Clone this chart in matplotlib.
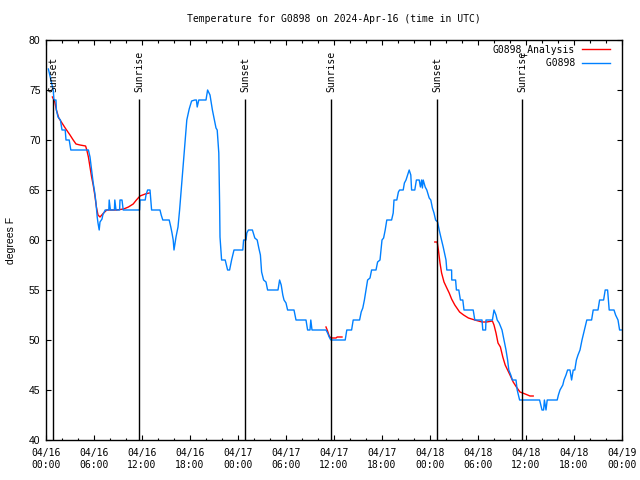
import matplotlib
matplotlib.use("Agg")
import matplotlib.pyplot as plt
import matplotlib.dates as mdates
import numpy as np
import pandas as pd

# hours after 2024-04-16 00:00 UTC, temperature in degrees F
obs_hours = [0.3, 0.9, 1.0, 1.25, 1.3, 1.5, 1.8, 2.0, 2.4, 2.5, 2.9, 3.1, 5.3, 5.5, 5.7, 5.9, 6.1, 6.25,
             6.4, 6.5, 6.65, 6.75, 7.0, 7.1, 7.4, 7.85, 7.9, 8.05, 8.55, 8.6, 8.75, 9.2, 9.25, 9.5, 9.65,
             11.7, 11.75, 12.4, 12.5, 12.7, 13.0, 13.2, 14.25, 14.4, 14.6, 15.4, 15.6, 15.75, 15.9, 16.0,
             16.25, 16.5, 16.7, 17.0, 17.3, 17.6, 17.9, 18.2, 18.6, 18.8, 18.9, 19.1, 20.0, 20.2, 20.5,
             20.8, 21.25, 21.4, 21.6, 21.7, 21.75, 21.95, 22.4, 22.7, 22.95, 23.2, 23.5, 24.6, 24.7, 25.0,
             25.1, 25.3, 25.8, 26.1, 26.4, 26.6, 26.8, 26.95, 27.2, 27.5, 27.7, 29.0, 29.2, 29.4, 29.6,
             29.75, 30.0, 30.2, 31.0, 31.25, 32.5, 32.7, 33.0, 33.1, 33.25, 35.0, 35.2, 35.4, 35.6, 37.4,
             37.6, 38.2, 38.4, 39.2, 39.4, 39.6, 39.8, 40.0, 40.2, 40.5, 40.7, 41.25, 41.45, 41.75, 42.0,
             42.2, 42.4, 42.6, 43.2, 43.4, 43.5, 43.85, 44.05, 44.2, 44.65, 44.8, 45.0, 45.2, 45.4, 45.6,
             45.7, 46.1, 46.3, 46.65, 46.8, 46.95, 47.05, 47.15, 47.4, 47.6, 47.9, 48.1, 48.3, 48.5, 48.7,
             48.95, 49.15, 49.35, 49.65, 50.0, 50.1, 50.7, 50.72, 51.2, 51.3, 51.6, 51.8, 52.1, 52.25,
             53.4, 53.6, 54.5, 54.6, 54.95, 55.0, 55.8, 56.0, 56.25, 56.4, 56.65, 57.0, 57.25, 57.5, 57.7,
             57.85, 58.1, 58.3, 58.75, 58.9, 59.2, 61.7, 61.85, 62.0, 62.2, 62.3, 62.5, 62.65, 63.9, 64.05,
             64.25, 64.6, 64.75, 65.0, 65.2, 65.5, 65.7, 65.9, 66.1, 66.3, 66.5, 66.75, 67.0, 67.3, 67.6,
             68.2, 68.4, 69.0, 69.2, 69.7, 69.9, 70.2, 70.4, 71.0, 71.2, 71.5, 71.7, 71.9]
obs_temp = [77.1, 75, 74, 74, 73, 72.3, 72, 71, 71, 70, 70, 69, 69, 68.3, 67, 65.7, 64.7, 63.7,
            62.3, 61.7, 61, 61.8, 62.1, 62.5, 63, 63, 64, 63, 63, 64, 63, 63, 64, 64, 63,
            63, 64, 64, 64.5, 65, 65, 63, 63, 62.5, 62, 62, 61.3, 60.7, 60, 59,
            60.3, 61.3, 63, 66, 69, 72, 73.1, 73.9, 74, 74, 73.3, 74, 74, 75, 74.5,
            73, 71.2, 71, 68.7, 63.7, 60.3, 58, 58, 57, 57, 58, 59, 59, 60, 60,
            60.7, 61, 61, 60.2, 60, 59.2, 58.5, 56.8, 56, 55.8, 55, 55, 56, 55.5, 54.5,
            54, 53.7, 53, 53, 52, 52, 51, 51, 52, 51, 51, 50.7, 50.3, 50, 50,
            51, 51, 52, 52, 52.8, 53.2, 54, 55, 56, 56.2, 57, 57, 57.8, 58, 60,
            60.2, 61, 62, 62, 62.7, 64, 64, 64.8, 65, 65, 65.7, 66, 66.5, 67, 66.5,
            65, 65, 66, 66, 65.3, 66, 65.2, 66, 65.3, 65, 64.2, 64, 63.2, 62.7, 62,
            61.8, 61, 60.3, 59.3, 58, 57, 57, 56, 56, 55, 55, 54, 54, 53,
            53, 52, 52, 51, 51, 52, 52, 53, 52.5, 52, 51.7, 51, 50, 49, 48,
            47, 46.5, 46, 46, 45, 44, 44, 43.5, 43, 43, 44, 43, 44, 44, 44.5,
            45, 45.5, 46, 46.5, 47, 47, 46, 47, 47, 48, 48.5, 49, 50, 51, 52,
            52, 53, 53, 54, 54, 55, 55, 53, 53, 52.5, 52, 51, 51]

ana1_hours = [0.8, 1.1, 1.3, 1.6, 2.0, 2.4, 3.0, 3.4, 3.75, 4.25, 4.95, 5.1, 5.3, 5.5, 5.7, 5.9, 6.1,
              6.3, 6.5, 6.75, 7.2, 7.6, 8.8, 9.7, 10.3, 10.9, 11.3, 11.75, 12.4, 12.9]
ana1_temp = [74.3, 73.8, 73, 72.2, 71.7, 71.2, 70.5, 70, 69.6, 69.5, 69.4, 69, 68.3, 67.3, 66.3, 65.5,
             64.5, 63.3, 62.5, 62.3, 62.7, 63, 63, 63.1, 63.3, 63.6, 64, 64.4, 64.6, 64.7]
ana2_hours = [35.0, 35.2, 35.4, 35.6, 36.25, 36.4, 37.0]
ana2_temp = [51.3, 50.9, 50.4, 50.2, 50.2, 50.3, 50.3]
ana3_hours = [48.6, 48.9, 49.05, 49.25, 49.45, 49.75, 50.1, 50.4, 50.7, 51.1, 51.7, 52.2, 52.8, 53.6,
              54.5, 55.1, 55.8, 56.0, 56.25, 56.5, 56.8, 57.1, 57.4, 57.7, 58.0, 58.4, 58.8, 59.25,
              59.9, 60.5, 60.9]
ana3_temp = [59.8, 59.8, 59, 57.7, 56.7, 55.8, 55.2, 54.7, 54.1, 53.5, 52.8, 52.5, 52.2, 52, 51.8,
             51.8, 51.9, 51.5, 50.7, 49.7, 49.3, 48.3, 47.5, 47, 46.5, 45.8, 45.3, 44.8, 44.6, 44.4,
             44.4]

sun_hours = [0.875, 11.625, 24.875, 35.625, 48.875, 59.5]
sun_labels = ["Sunset", "Sunrise", "Sunset", "Sunrise", "Sunset", "Sunrise"]

t0 = pd.Timestamp("2024-04-16 00:00")


def to_time(h):
    return t0 + pd.to_timedelta(np.array(h), unit="h")


mono = "DejaVu Sans Mono"
red = "#ff0000"
blue = "#0080ff"

fig = plt.figure(figsize=(6.4, 4.8), dpi=100)
ax = fig.add_axes([46 / 640, 40 / 480, 576 / 640, 400 / 480])

first = True
for hh, tt in [(ana1_hours, ana1_temp), (ana2_hours, ana2_temp), (ana3_hours, ana3_temp)]:
    ax.plot(to_time(hh), tt, color=red, lw=1.0, label="G0898_Analysis" if first else None)
    first = False
ax.plot(to_time(obs_hours), obs_temp, color=blue, lw=1.0, label="         G0898")

for h, lab in zip(sun_hours, sun_labels):
    ax.vlines(to_time([h]), 40, 74.1, colors="black", lw=1.0)
    ax.text(to_time([h])[0], 74.8, lab, rotation=90, ha="center", va="bottom",
            family=mono, fontsize=7)

ax.set_xlim(t0, t0 + pd.Timedelta(hours=72))
ax.set_ylim(40, 80)
ax.set_yticks(np.arange(40, 81, 5))
ax.xaxis.set_major_locator(mdates.HourLocator(byhour=[0, 6, 12, 18]))
ax.xaxis.set_minor_locator(mdates.HourLocator(interval=2))
ax.xaxis.set_major_formatter(mdates.DateFormatter("%m/%d\n%H:%M"))

ax.tick_params(axis="both", which="major", direction="in", length=3.6, width=0.8,
               top=True, right=True)
ax.tick_params(axis="x", which="minor", direction="in", length=1.8, width=0.8, top=True)
ax.tick_params(axis="x", which="major", pad=6)
ax.tick_params(axis="y", which="major", pad=4)
for lab in ax.get_xticklabels():
    lab.set_family(mono)
    lab.set_fontsize(7)
for lab in ax.get_yticklabels():
    lab.set_family("Liberation Sans")
    lab.set_fontsize(7.5)
for sp in ax.spines.values():
    sp.set_linewidth(1.0)

ax.set_ylabel("degrees F", family="Liberation Sans", fontsize=7.5)
ax.yaxis.set_label_coords(-0.052, 0.5)

fig.text(334 / 640, 1 - 19 / 480, "Temperature for G0898 on 2024-Apr-16 (time in UTC)",
         ha="center", va="center", family=mono, fontsize=7)

ax.legend(loc="upper right", bbox_to_anchor=(1 - 12 / 576, 1 - 4 / 400), frameon=False,
          markerfirst=False, prop={"family": mono, "size": 7}, handlelength=2.9,
          handletextpad=0.7, labelspacing=0.35, borderaxespad=0, borderpad=0)

fig.savefig("out.png", dpi=100)
